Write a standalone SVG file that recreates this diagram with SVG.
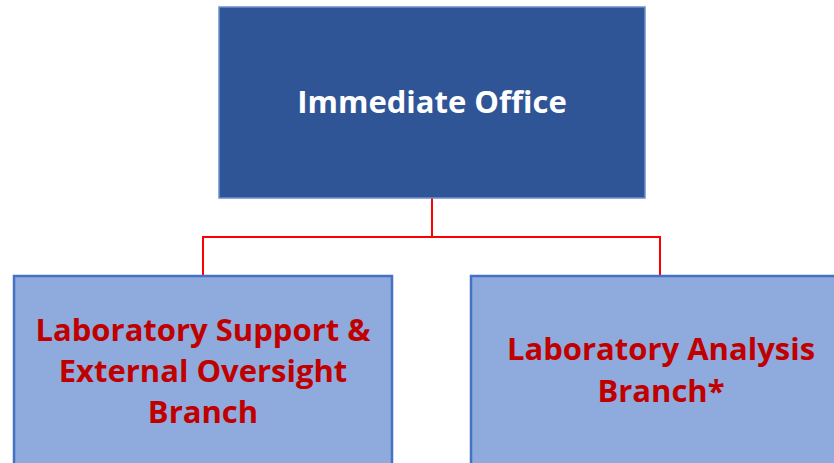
<svg xmlns="http://www.w3.org/2000/svg" width="834" height="463" viewBox="0 0 834 463">
<style>
.top{fill:#2F5597;stroke:#6F8FCB;stroke-width:1.5}
.sub{fill:#8FAADC;stroke:#4472C4;stroke-width:2.5}
.t{font-family:"Open Sans","Liberation Sans",sans-serif;font-weight:bold;text-anchor:middle}
.w{fill:#FFFFFF;font-size:31px}
.r{fill:#C00000;font-size:31px}
.c{fill:none;stroke:#FF0000;stroke-width:2}
</style>
<rect width="834" height="463" fill="#FFFFFF"/>
<g id="connectors">
<path class="c" d="M432 198 V237 M203 237 H660 M203 236 V276 M660 236 V276"/>
</g>
<g id="immediate-office">
<rect class="top" x="219" y="7" width="426" height="191"/>
<text class="t w" x="432" y="113">Immediate Office</text>
</g>
<g id="lab-support">
<rect class="sub" x="14" y="276" width="378" height="200"/>
<text class="t r" x="203" y="341">Laboratory Support &amp;</text>
<text class="t r" x="203" y="382">External Oversight</text>
<text class="t r" x="203" y="423">Branch</text>
</g>
<g id="lab-analysis">
<rect class="sub" x="471" y="276" width="378" height="200"/>
<text class="t r" x="661" y="360">Laboratory Analysis</text>
<text class="t r" x="661" y="402">Branch*</text>
</g>
</svg>
